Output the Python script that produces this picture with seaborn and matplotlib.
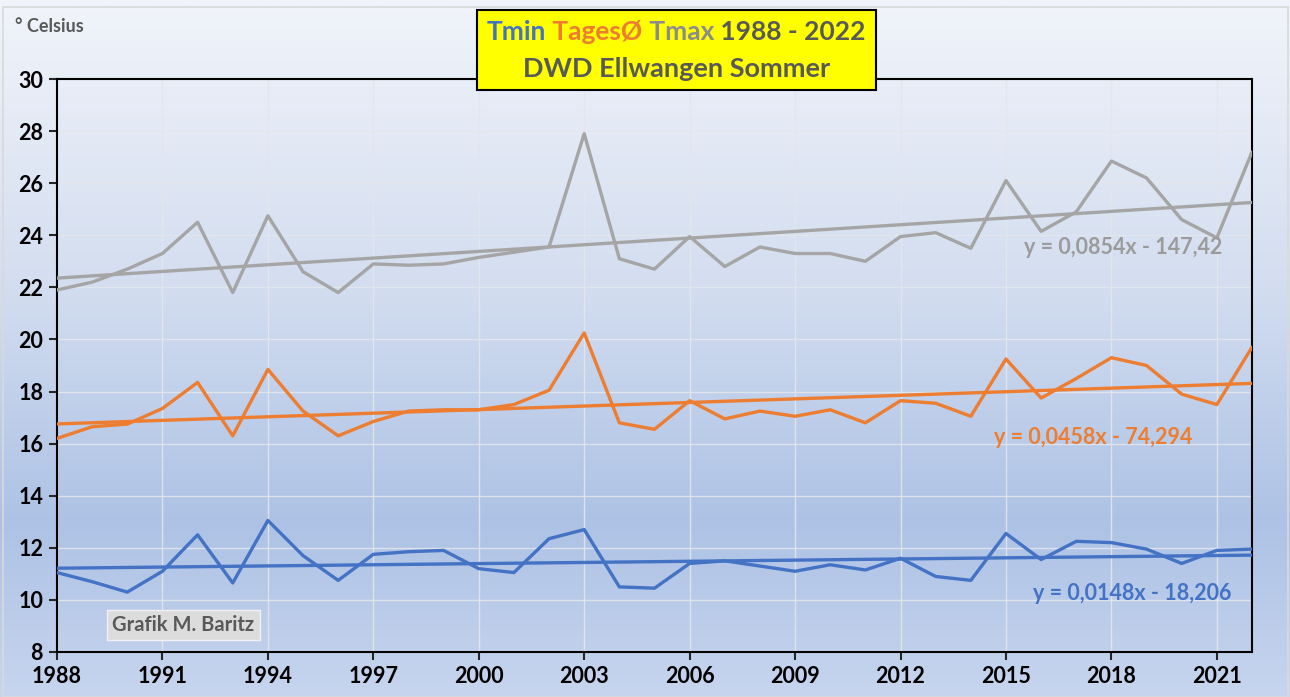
import numpy as np
import pandas as pd
import matplotlib
matplotlib.use("Agg")
import matplotlib.pyplot as plt
from matplotlib.colors import LinearSegmentedColormap
from matplotlib.patches import Rectangle
import seaborn as sns

#Chart data
years = list(range(1988, 2023))

tmax = [21.9, 22.2, 22.7, 23.3, 24.5, 21.8, 24.75, 22.6, 21.8, 22.9, 22.85, 22.9,
        23.15, 23.35, 23.55, 27.9, 23.1, 22.7, 23.95, 22.8, 23.55, 23.3, 23.3,
        23.0, 23.95, 24.1, 23.5, 26.1, 24.15, 24.9, 26.85, 26.2, 24.6, 23.9, 27.2]

tmean = [16.2, 16.65, 16.75, 17.35, 18.35, 16.3, 18.85, 17.25, 16.3, 16.85, 17.25, 17.3,
         17.3, 17.5, 18.05, 20.25, 16.8, 16.55, 17.65, 16.95, 17.25, 17.05, 17.3,
         16.8, 17.65, 17.55, 17.05, 19.25, 17.75, 18.5, 19.3, 19.0, 17.9, 17.5, 19.7]

tmin = [11.05, 10.7, 10.3, 11.1, 12.5, 10.65, 13.05, 11.7, 10.75, 11.75, 11.85, 11.9,
        11.2, 11.05, 12.35, 12.7, 10.5, 10.45, 11.4, 11.5, 11.3, 11.1, 11.35,
        11.15, 11.6, 10.9, 10.75, 12.55, 11.55, 12.25, 12.2, 11.95, 11.4, 11.9, 11.95]

#Linear trend coefficients as printed on the chart
trend_slope = {"Tmin": 0.0148, "TagesØ": 0.0458, "Tmax": 0.0854}
trend_icpt = {"Tmin": -18.206, "TagesØ": -74.294, "Tmax": -147.42}
trend_labels = {"Tmin": "y = 0,0148x - 18,206",
                "TagesØ": "y = 0,0458x - 74,294",
                "Tmax": "y = 0,0854x - 147,42"}

colors = {"Tmin": "#4472C4", "TagesØ": "#ED7D31", "Tmax": "#A5A5A5"}
W, H = 1290, 697

sns.set_style("ticks")
plt.rcParams["font.family"] = ["Lato", "DejaVu Sans"]
plt.rcParams["font.weight"] = "bold"

#Build long format frames for seaborn
df = pd.DataFrame({"year": years * 3,
                   "temp": tmin + tmean + tmax,
                   "series": ["Tmin"] * len(years) + ["TagesØ"] * len(years) + ["Tmax"] * len(years)})

trend_rows = []
for s in ["Tmin", "TagesØ", "Tmax"]:
    for x in (years[0], years[-1]):
        trend_rows.append({"year": x, "temp": trend_slope[s] * x + trend_icpt[s], "series": s})
df_trend = pd.DataFrame(trend_rows)

fig = plt.figure(figsize=(W / 100, H / 100), dpi=100)

#Background gradient (Excel style)
bg = fig.add_axes([0, 0, 1, 1], zorder=-10)
bg_cmap = LinearSegmentedColormap.from_list(
    "bg", [(0.0, "#f1f4fa"), (0.4, "#d4def0"), (0.75, "#adc2e5"), (1.0, "#c7d5ee")])
grad = np.linspace(0, 1, 256).reshape(-1, 1)
bg.imshow(grad, cmap=bg_cmap, aspect="auto", extent=[0, 1, 0, 1], origin="upper")
bg.set_xlim(0, 1)
bg.set_ylim(0, 1)
bg.axis("off")
bg.add_patch(Rectangle((3 / W, 0), 1 - 5 / W, 1 - 7 / H, fill=False,
                       edgecolor="#d9d9d9", lw=1.2))

ax = fig.add_axes([57 / W, 1 - 652 / H, (1252 - 57) / W, (652 - 79) / H])
ax.set_facecolor("none")

sns.lineplot(data=df, x="year", y="temp", hue="series", palette=colors,
             linewidth=2.4, legend=False, ax=ax, zorder=3)
sns.lineplot(data=df_trend, x="year", y="temp", hue="series", palette=colors,
             linewidth=2.4, legend=False, ax=ax, zorder=3)

ax.set_xlim(1988, 2022)
ax.set_ylim(8, 30)
ax.set_xticks(range(1988, 2022, 3))
ax.set_yticks(range(8, 31, 2))
ax.grid(True, color="#e3e6ec", lw=1, alpha=0.9)
ax.set_xlabel(None)
ax.set_ylabel(None)
for sp in ax.spines.values():
    sp.set_visible(True)
    sp.set_color("black")
    sp.set_linewidth(1.5)
ax.tick_params(axis="both", direction="out", length=6, width=1.5, labelsize=15.5,
               labelcolor="black", pad=4)
for lbl in ax.get_xticklabels() + ax.get_yticklabels():
    lbl.set_fontweight("bold")

#Overlay layer for boxes and free text
ov = fig.add_axes([0, 0, 1, 1], zorder=10)
ov.set_xlim(0, W)
ov.set_ylim(H, 0)
ov.axis("off")

#Trend equations
eq_pos = {"Tmax": (1123, 247), "TagesØ": (1093, 437), "Tmin": (1132, 593)}
eq_cols = {"Tmax": "#9b9b9b", "TagesØ": "#ED7D31", "Tmin": "#4472C4"}
for s, (px, py) in eq_pos.items():
    ov.text(px, py, trend_labels[s], color=eq_cols[s], fontsize=15.5,
            fontweight="bold", ha="center", va="center")

#Unit label
ov.text(15, 27, "° Celsius", color="#595959", fontsize=13,
        fontweight="bold", ha="left", va="center")

#Title box
ov.add_patch(Rectangle((477, 10), 876 - 477, 80, facecolor="#ffff00",
                       edgecolor="black", lw=1.5))
t1 = ov.text(487, 40, "Tmin", color="#4472C4", fontsize=19,
             fontweight="bold", va="baseline", ha="left")
prev = t1
for txt, col in [(" TagesØ", "#ED7D31"), (" Tmax", "#8c8c8c"), (" 1988 - 2022", "#595959")]:
    prev = ov.annotate(txt, xy=(1, 0), xycoords=prev, color=col, fontsize=19,
                       fontweight="bold", va="bottom", ha="left",
                       annotation_clip=False)
ov.text(676.5, 77, "DWD Ellwangen Sommer", color="#595959", fontsize=19.5,
        fontweight="bold", va="baseline", ha="center")

#Author box
ov.add_patch(Rectangle((107, 610), 260 - 107, 30, facecolor="#dcdcdc",
                       edgecolor="#f2f2f2", lw=1))
ov.text(183.5, 625, "Grafik M. Baritz", color="#595959", fontsize=14.5,
        fontweight="bold", ha="center", va="center")

fig.savefig("out.png", dpi=100)
